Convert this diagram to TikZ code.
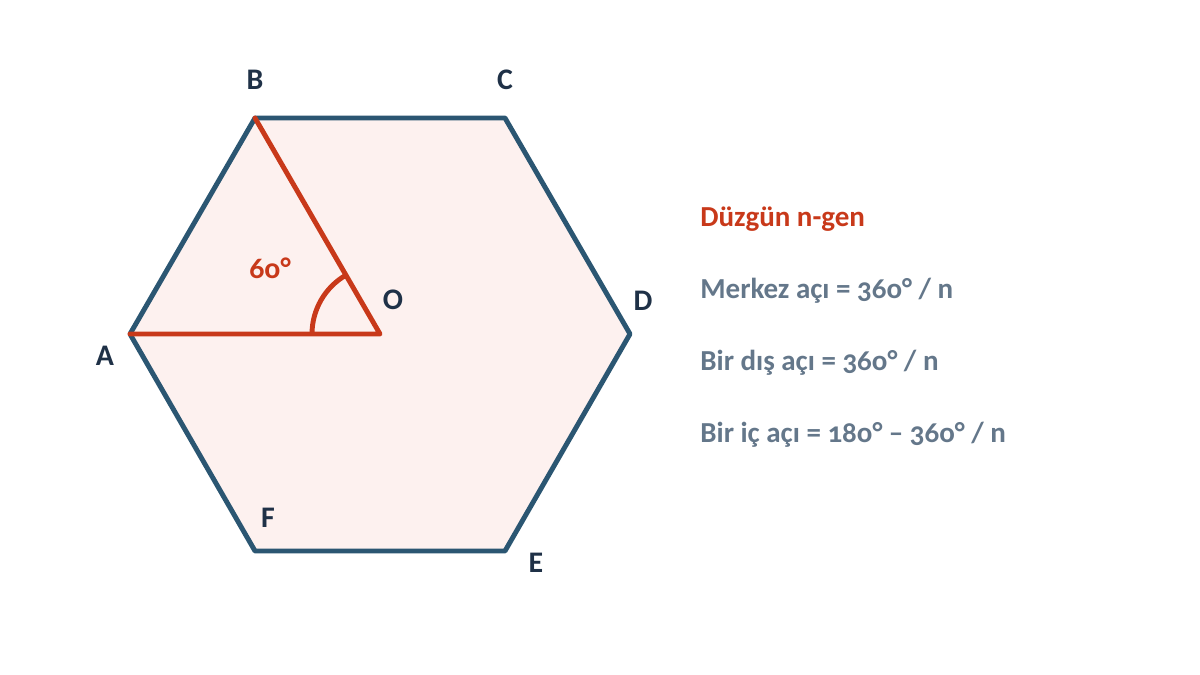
\documentclass[tikz,border=0pt]{standalone}
\usepackage{fontspec}
\setmainfont{Carlito}[Numbers=OldStyle]
\usepackage{xcolor}
\usetikzlibrary{positioning,calc}
\definecolor{hexblue}{HTML}{2B5672}
\definecolor{hexred}{HTML}{C8391A}
\definecolor{hexfill}{HTML}{FDF1EF}
\definecolor{lblcol}{HTML}{1F3147}
\definecolor{txtgray}{HTML}{64778A}
\begin{document}
\begin{tikzpicture}[
    x=0.02cm, y=0.02cm,
    side/.style={draw=hexblue, line width=2.8pt, line join=round},
    radius line/.style={draw=hexred, line width=2.8pt, line cap=round, line join=round},
    lbl/.style={font=\bfseries\fontsize{17}{20}\selectfont, text=lblcol, inner sep=0pt},
    info/.style={font=\bfseries\fontsize{16.5}{20}\selectfont, text=txtgray, anchor=base west, inner sep=0pt}
]
    \useasboundingbox (0,0) rectangle (1200,675);
    % Vertices
    \coordinate (A) at (130,341);
    \coordinate (B) at (255,557);
    \coordinate (C) at (505,557);
    \coordinate (D) at (630,341);
    \coordinate (E) at (505,124);
    \coordinate (F) at (255,124);
    \coordinate (O) at (380,341);
    
    % Hexagon
    \fill[hexfill] (A) -- (B) -- (C) -- (D) -- (E) -- (F) -- cycle;
    \draw[side] (A) -- (B) -- (C) -- (D) -- (E) -- (F) -- cycle;
    
    % Triangle and angle
    \draw[radius line] (B) -- (O) -- (A);
    \draw[hexred, line width=2.8pt] ($(O)+(-68,0)$) arc[start angle=180, end angle=120, radius=68];
    \node[font=\bfseries\fontsize{17}{20}\selectfont, text=hexred, inner sep=0pt] (angle) at (270,407) {6o°};
    
    % Vertex labels
    \node[lbl] (lA) at (105,319) {A};
    \node[lbl] (lB) at (255,595) {B};
    \node[lbl] (lC) at (505,595) {C};
    \node[lbl] (lD) at (643,374) {D};
    \node[lbl] (lE) at (536,112) {E};
    \node[lbl] (lF) at (268,157) {F};
    \node[lbl] (lO) at (393,375) {O};
    
    % Formulas
    \node[info, text=hexred] (title) at (700,448) {Düzgün n-gen};
    \node[info] (merkez) at (700,376) {Merkez açı = 36o° / n};
    \node[info] (dis) at (700,304) {Bir dış açı = 36o° / n};
    \node[info] (ic) at (700,232) {Bir iç açı = 18o° – 36o° / n};
\end{tikzpicture}
\end{document}
